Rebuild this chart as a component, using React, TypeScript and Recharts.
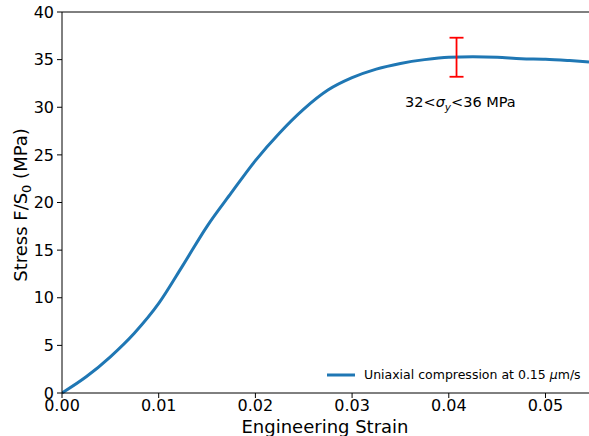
import React from 'react';
import {
  ComposedChart, Line, Scatter, ErrorBar, XAxis, YAxis, ReferenceLine, ReferenceDot,
} from 'recharts';

// engineering strain vs stress
const strain = [
  0, 0.0025, 0.005, 0.0075, 0.01, 0.0125, 0.015, 0.0175, 0.02, 0.0225, 0.025, 0.0275,
  0.03, 0.0325, 0.035, 0.0375, 0.04, 0.0425, 0.045, 0.0475, 0.05, 0.0525, 0.0545,
];
const stress = [
  0, 1.7, 3.8, 6.3, 9.4, 13.4, 17.5, 21.0, 24.4, 27.3, 29.8, 31.8,
  33.1, 34.0, 34.6, 35.0, 35.25, 35.3, 35.25, 35.1, 35.05, 34.9, 34.75,
];

// yield stress range marker
const yieldStrain = [0.0408];
const yieldStress = [35.25];
const yieldErr = [2.05];

const xTicks = [0, 0.01, 0.02, 0.03, 0.04, 0.05];
const yTicks = [0, 5, 10, 15, 20, 25, 30, 35, 40];

const seriesName = 'Uniaxial compression at 0.15 \u03bcm/s';
const annotationPos = { strain: 0.0412, stress: 30.55 };

const FONT = '"DejaVu Sans", sans-serif';
const BLUE = '#1f77b4';

const data = strain.map((s, i) => ({ strain: s, stress: stress[i] }));
const yieldData = yieldStrain.map((s, i) => ({ strain: s, stress: yieldStress[i], err: yieldErr[i] }));

const YLabel = () => (
  <text x={27} y={205} transform="rotate(-90, 27, 205)" textAnchor="middle"
    fontFamily={FONT} fontSize={18} fill="#000">
    <tspan>Stress F/S</tspan>
    <tspan fontSize={13} dy={4}>0</tspan>
    <tspan dy={-4}> (MPa)</tspan>
  </text>
);

const XLabel = () => (
  <text x={325} y={433} textAnchor="middle" fontFamily={FONT} fontSize={18} fill="#000">
    Engineering Strain
  </text>
);

const Annotation = (props: any) => {
  const vb = props.viewBox || {};
  const cx = (vb.x ?? 0) + (vb.width ?? 0) / 2;
  const cy = (vb.y ?? 0) + (vb.height ?? 0) / 2;
  return (
    <text x={cx} y={cy + 5} textAnchor="middle" fontFamily={FONT} fontSize={14.5} fill="#000">
      <tspan>32&lt;</tspan>
      <tspan fontStyle="italic">σ</tspan>
      <tspan fontStyle="italic" fontSize={10.5} dy={4}>y</tspan>
      <tspan dy={-4}>&lt;36 MPa</tspan>
    </text>
  );
};

// legend text: the µ is set in italic as in the reference
const [legendHead, legendTail] = seriesName.split('\u03bc');

const LegendBox = () => (
  <div style={{
    position: 'absolute', left: 327, top: 367, display: 'flex', alignItems: 'center',
    fontFamily: FONT, fontSize: 12.5, color: '#000', whiteSpace: 'nowrap',
  }}>
    <svg width={28} height={6} style={{ marginRight: 9 }}>
      <line x1={0} y1={3} x2={28} y2={3} stroke={BLUE} strokeWidth={3} />
    </svg>
    <span>{legendHead}<i>{'\u03bc'}</i>{legendTail}</span>
  </div>
);

export default function App() {
  return (
    <div style={{ position: 'absolute', left: 0, top: 0, width: 589, height: 436, background: '#fff' }}>
      <ComposedChart width={589} height={436} data={data}
        margin={{ top: 12, right: 0, bottom: 0, left: 0 }}>
        <XAxis
          dataKey="strain"
          type="number"
          domain={[0, 0.0545]}
          ticks={xTicks}
          allowDataOverflow
          tickFormatter={(v: number) => v.toFixed(2)}
          height={43}
          tickSize={5}
          tickMargin={2}
          stroke="#000"
          tick={{ fontSize: 16, fill: '#000', fontFamily: FONT }}
          label={<XLabel />}
        />
        <YAxis
          type="number"
          domain={[0, 40]}
          ticks={yTicks}
          width={62}
          tickSize={5}
          tickMargin={3}
          stroke="#000"
          tick={{ fontSize: 16, fill: '#000', fontFamily: FONT }}
          label={<YLabel />}
        />
        <ReferenceLine y={40} stroke="#000" strokeWidth={1} ifOverflow="visible" />
        <Line
          type="monotone"
          dataKey="stress"
          stroke={BLUE}
          strokeWidth={3}
          dot={false}
          name={seriesName}
          isAnimationActive={false}
        />
        <Scatter data={yieldData} dataKey="stress" shape={() => <g />} isAnimationActive={false} legendType="none">
          <ErrorBar dataKey="err" direction="y" width={7} stroke="#ff0000" strokeWidth={1.8} />
        </Scatter>
        <ReferenceDot x={annotationPos.strain} y={annotationPos.stress} r={0}
          fill="none" stroke="none" label={<Annotation />} />
      </ComposedChart>
      <LegendBox />
    </div>
  );
}
